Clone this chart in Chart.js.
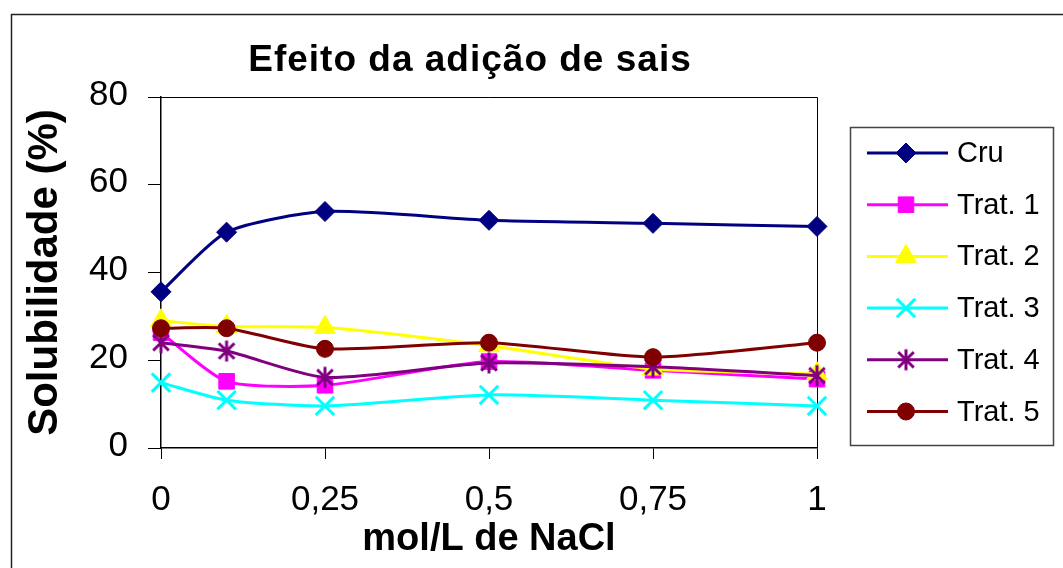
<!DOCTYPE html>
<html>
<head>
<meta charset="utf-8">
<script src="https://cdn.jsdelivr.net/npm/chart.js@4/dist/chart.umd.min.js"></script>
<style>
html,body{margin:0;padding:0;background:#fff;overflow:hidden}
#wrap{width:1063px;height:568px;position:relative}
</style>
</head>
<body>
<div id="wrap"><canvas id="c" width="1063" height="568"></canvas></div>
<script>
// ---- data ----
const chartTitle = 'Efeito da adição de sais';
const xAxisTitle = 'mol/L de NaCl';
const yAxisTitle = 'Solubilidade (%)';
const concentrations = [0, 0.1, 0.25, 0.5, 0.75, 1];
const xTickValues = [0, 0.25, 0.5, 0.75, 1];
const xTickLabels = ['0', '0,25', '0,5', '0,75', '1'];
const yTickValues = [0, 20, 40, 60, 80];
const seriesNames = ['Cru', 'Trat. 1', 'Trat. 2', 'Trat. 3', 'Trat. 4', 'Trat. 5'];
const cru    = [35.6, 49.2, 53.9, 51.9, 51.2, 50.5];
const trat1  = [26.3, 15.2, 14.3, 19.7, 17.7, 15.7];
const trat2  = [29.0, 27.7, 27.5, 23.3, 18.0, 16.9];
const trat3  = [14.9, 10.9,  9.6, 12.1, 10.9,  9.6];
const trat4  = [24.0, 22.1, 16.1, 19.4, 18.5, 16.5];
const trat5  = [27.3, 27.3, 22.6, 24.0, 20.7, 24.0];
const seriesValues = [cru, trat1, trat2, trat3, trat4, trat5];
const seriesColors = ['#000080', '#FF00FF', '#FFFF00', '#00FFFF', '#800080', '#800000'];

// ---- styles ----
const FONT = "'Liberation Sans', Arial, Helvetica, sans-serif";

function makeAsterisk(color, size, lw) {
  const cv = document.createElement('canvas');
  cv.width = size; cv.height = size;
  const g = cv.getContext('2d');
  const c = size / 2, r = size / 2 - 1.5;
  g.strokeStyle = color; g.lineWidth = lw; g.lineCap = 'butt';
  g.beginPath();
  g.moveTo(c, c - r); g.lineTo(c, c + r);
  const d = r * Math.SQRT1_2 * 1.05;
  g.moveTo(c - d, c - d); g.lineTo(c + d, c + d);
  g.moveTo(c + d, c - d); g.lineTo(c - d, c + d);
  g.stroke();
  return cv;
}
const asterisk = makeAsterisk('#800080', 24, 3);

const markerStyles = [
  {pointStyle: 'rectRot', radius: 10, borderWidth: 1},
  {pointStyle: 'rect', radius: 11, borderWidth: 1},
  {pointStyle: 'triangle', radius: 12, borderWidth: 1},
  {pointStyle: 'crossRot', radius: 13, borderWidth: 3},
  {pointStyle: asterisk, radius: 12, borderWidth: 3},
  {pointStyle: 'circle', radius: 8.5, borderWidth: 1}
];

const datasets = seriesNames.map((name, i) => ({
  label: name,
  data: concentrations.map((x, j) => ({x: x, y: seriesValues[i][j]})),
  showLine: true,
  borderColor: seriesColors[i],
  backgroundColor: seriesColors[i],
  borderWidth: 3,
  tension: 0.22,
  pointStyle: markerStyles[i].pointStyle,
  pointRadius: markerStyles[i].radius,
  pointHoverRadius: markerStyles[i].radius,
  pointBorderWidth: markerStyles[i].borderWidth,
  pointBackgroundColor: seriesColors[i],
  pointBorderColor: seriesColors[i],
  order: seriesNames.length - i,
  clip: false
}));

function drawLegendMarker(ctx, i, x, y) {
  const color = seriesColors[i];
  ctx.save();
  ctx.fillStyle = color; ctx.strokeStyle = color;
  const st = markerStyles[i];
  const r = st.radius;
  ctx.lineWidth = st.borderWidth;
  ctx.beginPath();
  if (st.pointStyle === 'rectRot') {
    ctx.moveTo(x, y - r); ctx.lineTo(x + r, y); ctx.lineTo(x, y + r); ctx.lineTo(x - r, y); ctx.closePath();
    ctx.fill(); ctx.stroke();
  } else if (st.pointStyle === 'rect') {
    const s = r * Math.SQRT1_2;
    ctx.rect(x - s, y - s, 2 * s, 2 * s); ctx.fill(); ctx.stroke();
  } else if (st.pointStyle === 'triangle') {
    ctx.moveTo(x, y - r);
    ctx.lineTo(x + r * 0.866, y + r / 2);
    ctx.lineTo(x - r * 0.866, y + r / 2);
    ctx.closePath(); ctx.fill(); ctx.stroke();
  } else if (st.pointStyle === 'crossRot') {
    const d = r * Math.SQRT1_2;
    ctx.moveTo(x - d, y - d); ctx.lineTo(x + d, y + d);
    ctx.moveTo(x + d, y - d); ctx.lineTo(x - d, y + d);
    ctx.stroke();
  } else if (st.pointStyle === 'circle') {
    ctx.arc(x, y, r, 0, Math.PI * 2); ctx.fill(); ctx.stroke();
  } else {
    ctx.drawImage(st.pointStyle, x - st.pointStyle.width / 2, y - st.pointStyle.height / 2);
  }
  ctx.restore();
}

const decorPlugin = {
  id: 'decor',
  beforeDraw(chart) {
    const ctx = chart.ctx;
    ctx.save();
    ctx.fillStyle = '#fff';
    ctx.fillRect(0, 0, chart.width, chart.height);
    ctx.strokeStyle = '#222';
    ctx.lineWidth = 1.5;
    ctx.beginPath();
    ctx.moveTo(11.5, chart.height);
    ctx.lineTo(11.5, 14.5);
    ctx.lineTo(chart.width, 14.5);
    ctx.stroke();
    ctx.restore();
  },
  beforeDatasetsDraw(chart) {
    const ctx = chart.ctx, a = chart.chartArea;
    ctx.save();
    ctx.strokeStyle = '#000';
    ctx.lineWidth = 1;
    ctx.beginPath();
    ctx.moveTo(a.left, a.top + 0.5);
    ctx.lineTo(a.right + 0.5, a.top + 0.5);
    ctx.lineTo(a.right + 0.5, a.bottom);
    ctx.stroke();
    ctx.restore();
  },
  afterDraw(chart) {
    const ctx = chart.ctx, a = chart.chartArea;
    ctx.save();
    // title
    ctx.fillStyle = '#000';
    ctx.font = 'bold 37px ' + FONT;
    try { ctx.letterSpacing = '1px'; } catch (e) {}
    ctx.textAlign = 'center';
    ctx.textBaseline = 'alphabetic';
    ctx.fillText(chartTitle, 470, 71);
    try { ctx.letterSpacing = '0px'; } catch (e) {}
    // legend
    const lx = a.right + 33, ly = 127, lw = 203, lh = 318;
    ctx.strokeStyle = '#444';
    ctx.lineWidth = 1.5;
    ctx.strokeRect(lx + 0.5, ly + 0.5, lw, lh);
    ctx.font = '29px ' + FONT;
    ctx.textAlign = 'left';
    ctx.textBaseline = 'middle';
    seriesNames.forEach((name, i) => {
      const y = ly + 26 + i * 51.7;
      ctx.strokeStyle = seriesColors[i];
      ctx.lineWidth = 3;
      ctx.beginPath();
      ctx.moveTo(lx + 17, y); ctx.lineTo(lx + 98, y);
      ctx.stroke();
      drawLegendMarker(ctx, i, lx + 56, y);
      ctx.fillStyle = '#000';
      ctx.fillText(name, lx + 107, y + 1);
    });
    ctx.restore();
  }
};

new Chart(document.getElementById('c'), {
  type: 'scatter',
  data: {datasets: datasets},
  options: {
    responsive: false,
    animation: false,
    devicePixelRatio: 1,
    layout: {padding: {left: 0, top: 97, right: 246, bottom: 0}},
    plugins: {
      legend: {display: false},
      title: {display: false},
      tooltip: {enabled: false}
    },
    scales: {
      x: {
        type: 'linear',
        min: 0, max: 1,
        afterBuildTicks: (s) => { s.ticks = xTickValues.map(v => ({value: v})); },
        afterFit: (s) => { s.height = 120; },
        ticks: {
          autoSkip: false,
          maxRotation: 0,
          padding: 20,
          color: '#000',
          font: {family: FONT, size: 35},
          callback: (v, idx) => xTickLabels[idx]
        },
        grid: {drawOnChartArea: false, drawTicks: true, tickLength: 11, color: '#000', lineWidth: 1},
        border: {display: true, color: '#000', width: 1.5},
        title: {
          display: true, text: xAxisTitle, color: '#000',
          font: {family: FONT, size: 38, weight: 'bold'},
          padding: {top: 0, bottom: 6}
        }
      },
      y: {
        type: 'linear',
        min: 0, max: 80,
        afterBuildTicks: (s) => { s.ticks = yTickValues.map(v => ({value: v})); },
        afterFit: (s) => { s.width = 161; },
        ticks: {
          padding: 20,
          color: '#000',
          labelOffset: -2,
          font: {family: FONT, size: 35},
          callback: (v) => String(v)
        },
        grid: {drawOnChartArea: false, drawTicks: true, tickLength: 13, color: '#000', lineWidth: 1},
        border: {display: true, color: '#000', width: 1.5},
        title: {
          display: true, text: yAxisTitle, color: '#000',
          font: {family: FONT, size: 42, weight: 'bold'},
          padding: {top: 20, bottom: 0}
        }
      }
    }
  },
  plugins: [decorPlugin]
});
</script>
</body>
</html>
